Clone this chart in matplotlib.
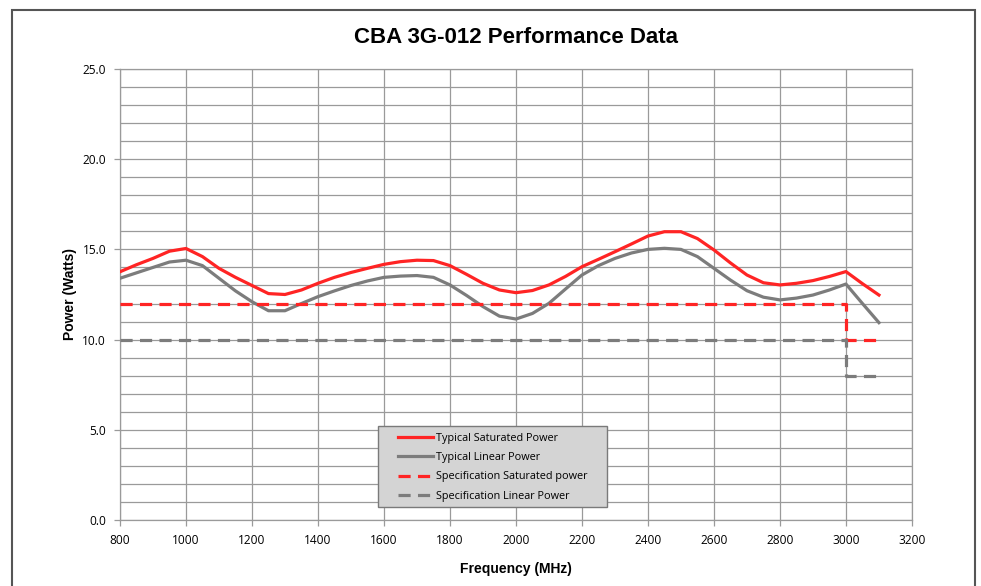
import matplotlib
matplotlib.use("Agg")
import matplotlib.pyplot as plt
from matplotlib.patches import Rectangle
from matplotlib.ticker import MultipleLocator, FormatStrFormatter

# frequency points (MHz)
freq = [800, 850, 900, 950, 1000, 1050, 1100, 1150, 1200, 1250, 1300, 1350,
        1400, 1450, 1500, 1550, 1600, 1650, 1700, 1750, 1800, 1850, 1900, 1950,
        2000, 2050, 2100, 2150, 2200, 2250, 2300, 2350, 2400, 2450, 2500, 2550,
        2600, 2650, 2700, 2750, 2800, 2850, 2900, 2950, 3000, 3050, 3100]

sat_power = [13.76, 14.15, 14.5, 14.9, 15.05, 14.6, 13.95, 13.45, 13.0, 12.55, 12.5, 12.75,
             13.12, 13.45, 13.72, 13.95, 14.17, 14.32, 14.4, 14.38, 14.1, 13.62, 13.12, 12.75,
             12.6, 12.72, 13.03, 13.5, 14.04, 14.45, 14.87, 15.3, 15.74, 15.98, 15.98, 15.6,
             14.97, 14.25, 13.58, 13.15, 13.03, 13.12, 13.27, 13.5, 13.77, 13.1, 12.47]

lin_power = [13.4, 13.7, 14.0, 14.3, 14.4, 14.1, 13.4, 12.7, 12.1, 11.6, 11.6, 12.0,
             12.38, 12.7, 13.0, 13.25, 13.45, 13.52, 13.55, 13.45, 13.03, 12.45, 11.83, 11.3,
             11.14, 11.45, 12.01, 12.8, 13.58, 14.1, 14.5, 14.8, 15.0, 15.06, 15.0, 14.6,
             13.95, 13.3, 12.71, 12.35, 12.2, 12.3, 12.47, 12.75, 13.08, 12.0, 10.94]

spec_freq = [800, 3000, 3000, 3100]
spec_sat = [12, 12, 10, 10]
spec_lin = [10, 10, 8, 8]

labels = ["Typical Saturated Power", "Typical Linear Power",
          "Specification Saturated power", "Specification Linear Power"]

RED = "#FF2424"
GREY = "#7C7C7C"
GRID = "#9A9A9A"
tick_font = "Open Sans"

fig = plt.figure(figsize=(9.81, 5.86), dpi=100)
ax = fig.add_axes([0.1223, 0.1126, 0.8073, 0.7697])

ax.plot(freq, sat_power, color=RED, lw=2.3, label=labels[0], zorder=3)
ax.plot(freq, lin_power, color=GREY, lw=2.3, label=labels[1], zorder=3)
ax.plot(spec_freq, spec_sat, color=RED, lw=2.3, dashes=(3.8, 2.3), label=labels[2], zorder=3)
ax.plot(spec_freq, spec_lin, color=GREY, lw=2.3, dashes=(3.8, 2.3), label=labels[3], zorder=3)

ax.set_xlim(800, 3200)
ax.set_ylim(0, 25)
ax.xaxis.set_major_locator(MultipleLocator(200))
ax.yaxis.set_major_locator(MultipleLocator(5))
ax.yaxis.set_minor_locator(MultipleLocator(1))
ax.yaxis.set_major_formatter(FormatStrFormatter("%.1f"))
ax.grid(True, which="both", axis="y", color=GRID, lw=0.9)
ax.grid(True, which="major", axis="x", color=GRID, lw=0.9)
ax.set_axisbelow(True)
ax.tick_params(axis="y", which="minor", length=0)
ax.tick_params(axis="both", which="major", direction="out", length=4,
               width=0.9, color=GRID, labelsize=8.6, pad=6)
for lab in ax.get_xticklabels() + ax.get_yticklabels():
    lab.set_fontfamily(tick_font)
for sp in ax.spines.values():
    sp.set_color(GRID)
    sp.set_linewidth(0.9)

ax.set_title("CBA 3G-012 Performance Data", fontsize=16, fontweight="bold",
             family="Liberation Sans", pad=19)
ax.set_xlabel("Frequency (MHz)", fontsize=10, fontweight="bold",
              family="Liberation Sans", labelpad=11)
ax.set_ylabel("Power (Watts)", fontsize=10, fontweight="bold",
              family="Liberation Sans", labelpad=4)

# grey legend box like the Excel one
ax.add_patch(Rectangle((0.3258, 0.0288), 0.2891, 0.1796, transform=ax.transAxes,
                       facecolor="#D4D4D4", edgecolor="#7A7A7A", lw=1.0, zorder=4))
leg = ax.legend(loc="upper left", bbox_to_anchor=(0.351, 0.194), frameon=False,
                borderpad=0, borderaxespad=0, handlelength=3.2, handletextpad=0.3,
                labelspacing=0.78, prop={"family": tick_font, "size": 7.8})
leg.set_zorder(5)

# outer border of the chart object
fig.patches.append(Rectangle((12 / 981, -0.02), 963 / 981, 1.003, transform=fig.transFigure,
                             fill=False, edgecolor="#555555", lw=1.5))

fig.savefig("out.png", dpi=100)
